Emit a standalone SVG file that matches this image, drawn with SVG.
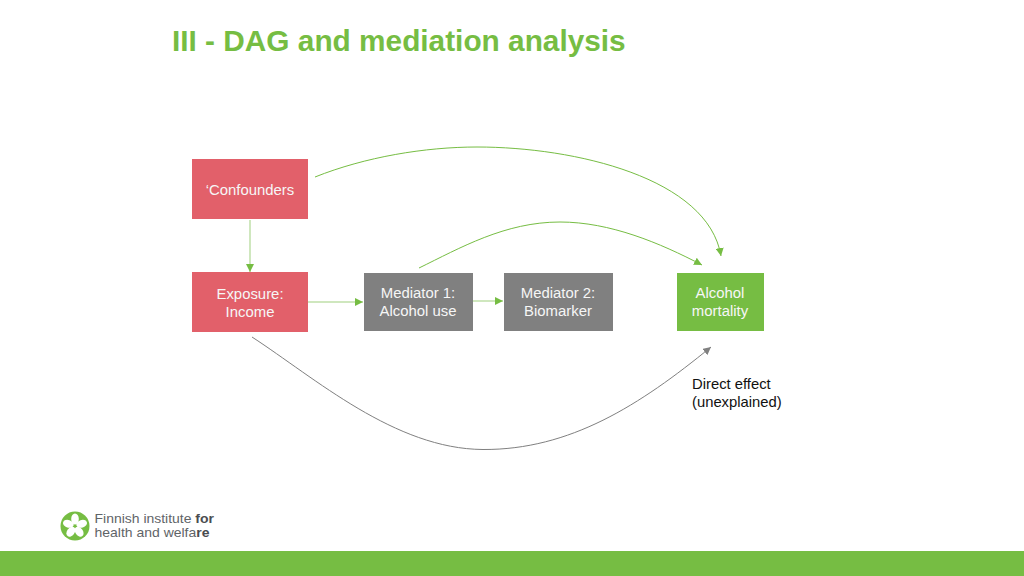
<svg xmlns="http://www.w3.org/2000/svg" width="1024" height="576" viewBox="0 0 1024 576">
<style>
text{font-family:"Liberation Sans",Arial,sans-serif}
.n{font-size:14.9px;fill:#f6f6f6;text-anchor:middle}
.c{fill:none;stroke-width:1}
.g{stroke:#76bd43}
.l{stroke:#bfdfa8;stroke-width:1.5}
.k{stroke:#808080}
.logo{font-size:12.1px;fill:#5f6468}
.b{font-weight:700;fill:#4a4d50}
</style>
<defs>
<marker id="ag" markerUnits="userSpaceOnUse" markerWidth="9" markerHeight="8" refX="8" refY="4" orient="auto"><path d="M0 0L8 4L0 8Z" fill="#76bd43"/></marker>
<marker id="ak" markerUnits="userSpaceOnUse" markerWidth="9" markerHeight="8" refX="8" refY="4" orient="auto"><path d="M0 0L8 4L0 8Z" fill="#808080"/></marker>
</defs>
<rect x="0" y="551" width="1024" height="25" fill="#76bd43"/>
<text x="172" y="51" font-size="29.8" font-weight="700" fill="#76bd43">III - DAG and mediation analysis</text>
<g id="connectors">
<path class="c g" marker-end="url(#ag)" d="M315 177C365 157 425 147 477 147C575 147 708 178 721 256"/>
<path class="c g" marker-end="url(#ag)" d="M419 268C460 248 505 222 560 222C610 222 660 243 702 265"/>
<path class="c l" marker-end="url(#ag)" d="M250 220V272"/>
<path class="c l" marker-end="url(#ag)" d="M308 302H363"/>
<path class="c l" marker-end="url(#ag)" d="M473 301H503"/>
<path class="c k" marker-end="url(#ak)" d="M252 337C315 378 395 449 483 449.500C570 450 640 405 711 347"/>
</g>
<g id="confounders"><rect x="192" y="159" width="116" height="60" fill="#e2606a"/><text class="n" x="250" y="195">‘Confounders</text></g>
<g id="exposure"><rect x="192" y="272" width="116" height="60" fill="#e2606a"/><text class="n" x="250" y="299">Exposure:</text><text class="n" x="250" y="317">Income</text></g>
<g id="mediator1"><rect x="364" y="273" width="109" height="58" fill="#808080"/><text class="n" x="418" y="298">Mediator 1:</text><text class="n" x="418" y="316">Alcohol use</text></g>
<g id="mediator2"><rect x="504" y="273" width="109" height="58" fill="#808080"/><text class="n" x="558" y="298">Mediator 2:</text><text class="n" x="558" y="316">Biomarker</text></g>
<g id="outcome"><rect x="677" y="273" width="87" height="58" fill="#76bd43"/><text class="n" x="720" y="298">Alcohol</text><text class="n" x="720" y="316">mortality</text></g>
<g id="direct-effect"><text x="692" y="389" font-size="14.8" fill="#111">Direct effect</text><text x="692" y="407" font-size="14.8" fill="#111">(unexplained)</text></g>
<g id="logo">
<circle cx="75" cy="526" r="14.500" fill="#76bd43"/>
<g fill="#fff"><ellipse cx="75" cy="519" rx="3.800" ry="5.500"/><ellipse cx="75" cy="519" rx="3.800" ry="5.500" transform="rotate(72 75 526)"/><ellipse cx="75" cy="519" rx="3.800" ry="5.500" transform="rotate(144 75 526)"/><ellipse cx="75" cy="519" rx="3.800" ry="5.500" transform="rotate(216 75 526)"/><ellipse cx="75" cy="519" rx="3.800" ry="5.500" transform="rotate(288 75 526)"/></g>
<text class="logo" x="94.500" y="523" textLength="119.500" lengthAdjust="spacingAndGlyphs">Finnish institute <tspan class="b">for</tspan></text>
<text class="logo" x="94.500" y="537" textLength="115" lengthAdjust="spacingAndGlyphs">health and welfa<tspan class="b">re</tspan></text>
</g>
</svg>
